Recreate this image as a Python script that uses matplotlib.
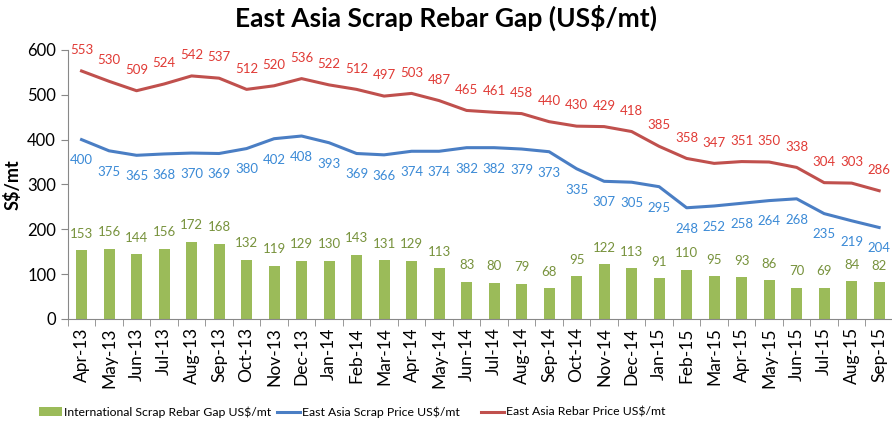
import matplotlib.pyplot as plt
import numpy as np

months = ['Apr-13', 'May-13', 'Jun-13', 'Jul-13', 'Aug-13', 'Sep-13', 'Oct-13', 'Nov-13', 'Dec-13',
          'Jan-14', 'Feb-14', 'Mar-14', 'Apr-14', 'May-14', 'Jun-14', 'Jul-14', 'Aug-14', 'Sep-14',
          'Oct-14', 'Nov-14', 'Dec-14', 'Jan-15', 'Feb-15', 'Mar-15', 'Apr-15', 'May-15', 'Jun-15',
          'Jul-15', 'Aug-15', 'Sep-15']
rebar = [553, 530, 509, 524, 542, 537, 512, 520, 536, 522, 512, 497, 503, 487, 465, 461, 458, 440,
         430, 429, 418, 385, 358, 347, 351, 350, 338, 304, 303, 286]
scrap = [400, 375, 365, 368, 370, 369, 380, 402, 408, 393, 369, 366, 374, 374, 382, 382, 379, 373,
         335, 307, 305, 295, 248, 252, 258, 264, 268, 235, 219, 204]
gap = [153, 156, 144, 156, 172, 168, 132, 119, 129, 130, 143, 131, 129, 113, 83, 80, 79, 68,
       95, 122, 113, 91, 110, 95, 93, 86, 70, 69, 84, 82]

plt.rcParams['font.family'] = ['Lato', 'DejaVu Sans']

fig = plt.figure(figsize=(8.92, 4.34), dpi=100)
ax = fig.add_axes([0.076, 0.265, 0.925, 0.62])

x = np.arange(len(months))
bars = ax.bar(x, gap, width=0.4, color='#9BBB59', label='International Scrap Rebar Gap US$/mt', zorder=2)
l1, = ax.plot(x, scrap, color='#4A7EC4', lw=2.2, label='East Asia Scrap Price US$/mt', zorder=3)
l2, = ax.plot(x, rebar, color='#C0504D', lw=2.2, label='East Asia Rebar Price US$/mt', zorder=3)

for i in range(len(months)):
    ax.annotate(str(gap[i]), (x[i], gap[i]), xytext=(0, 12), textcoords='offset points',
                ha='center', va='center', fontsize=9.5, color='#77923C')
    ax.annotate(str(scrap[i]), (x[i], scrap[i]), xytext=(0, -15), textcoords='offset points',
                ha='center', va='center', fontsize=9.5, color='#3B8AD6')
    ax.annotate(str(rebar[i]), (x[i], rebar[i]), xytext=(0, 15), textcoords='offset points',
                ha='center', va='center', fontsize=9.5, color='#E03A35')

ax.set_xlim(-0.5, len(months) - 0.5)
ax.set_ylim(0, 600)
ax.set_yticks(range(0, 601, 100))
ax.set_xticks(x)
ax.set_xticklabels(months, rotation=90, fontsize=12.5)
ax.tick_params(axis='x', length=0, pad=6)
ax.set_xticks(np.arange(-0.5, len(months), 1), minor=True)
ax.tick_params(axis='x', which='minor', length=5, color='#888888', direction='out')
ax.tick_params(axis='y', labelsize=12, length=5, color='#888888', direction='out')
for s in ['top', 'right']:
    ax.spines[s].set_visible(False)
ax.spines['left'].set_color('#888888')
ax.spines['bottom'].set_color('#888888')

ax.set_ylabel('S$/mt', fontsize=13, fontweight='bold', labelpad=4)
fig.suptitle('East Asia Scrap Rebar Gap (US$/mt)', x=0.5, y=0.99, fontsize=19, fontweight='bold')

# three legend entries placed separately like the original
for h, xpos in [(bars, 0.044), (l1, 0.31), (l2, 0.539)]:
    fig.legend(handles=[h], loc='center left', bbox_to_anchor=(xpos, 0.05), frameon=False,
               fontsize=8.8, handlelength=1.9, handletextpad=0.15, borderaxespad=0, borderpad=0)

fig.savefig('out.png', dpi=100)
